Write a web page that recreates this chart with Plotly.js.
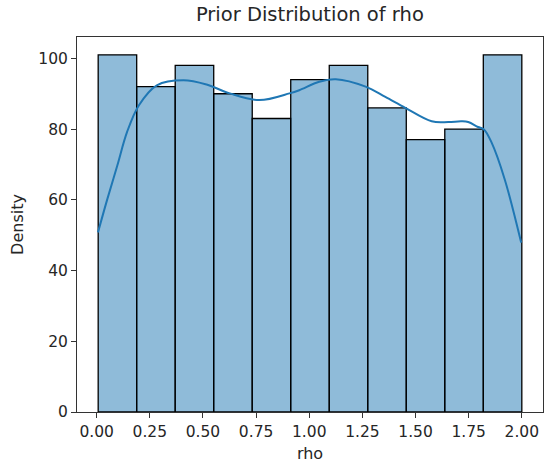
<!DOCTYPE html>
<html>
<head>
<meta charset="utf-8">
<script src="https://cdn.plot.ly/plotly-3.0.1.min.js"></script>
<style>html,body{margin:0;padding:0;background:#fff;}#chart{width:547px;height:466px;}</style>
</head>
<body>
<div id="chart"></div>
<script>
// Histogram of rho: 11 equal bins between data min and max
const rhoMin = 0.007;
const rhoMax = 2.0;
const counts = [101, 92, 98, 90, 83, 94, 98, 86, 77, 80, 101];

// KDE curve (scaled to counts)
const kdeX = [0.006, 0.05, 0.097, 0.143, 0.198, 0.283, 0.408, 0.517, 0.626, 0.766, 0.907, 0.953, 1.047, 1.125, 1.265, 1.358, 1.452, 1.576, 1.654, 1.716, 1.748, 1.794, 1.822, 1.857, 1.919, 1.997];
const kdeY = [50.8, 60.2, 69.7, 79.2, 86.7, 92.4, 93.8, 92.6, 90.1, 88.2, 90.1, 91.0, 93.4, 94.1, 92.0, 89.1, 86.0, 82.2, 82.0, 82.2, 82.0, 80.6, 79.9, 76.3, 65.9, 47.9];

const xTicks = [0, 0.25, 0.5, 0.75, 1.0, 1.25, 1.5, 1.75, 2.0];
const yTicks = [0, 20, 40, 60, 80, 100];

const nBins = counts.length;
const binWidth = (rhoMax - rhoMin) / nBins;
const centers = counts.map((_, i) => rhoMin + binWidth * (i + 0.5));

const span = rhoMax - rhoMin;
const xRange = [rhoMin - 0.05 * span, rhoMax + 0.05 * span];
const yRange = [0, Math.max(...counts) * 1.05];

const font = 'DejaVu Sans, sans-serif';
const txt = '#262626';

const traces = [
  {
    type: 'bar',
    x: centers,
    y: counts,
    width: counts.map(() => binWidth),
    marker: {color: 'rgba(31,119,180,0.5)', line: {color: '#000', width: 1.3}},
    hoverinfo: 'skip'
  },
  {
    type: 'scatter',
    mode: 'lines',
    x: kdeX,
    y: kdeY,
    line: {color: '#1f77b4', width: 2, shape: 'spline'},
    hoverinfo: 'skip'
  }
];

const layout = {
  width: 547,
  height: 466,
  margin: {l: 77, r: 4, t: 37, b: 54},
  paper_bgcolor: '#fff',
  plot_bgcolor: '#fff',
  showlegend: false,
  bargap: 0,
  font: {family: font, size: 15.5, color: txt},
  title: {text: 'Prior Distribution of rho', x: 0.5665, xanchor: 'center', y: 0.97, yanchor: 'middle', font: {family: font, size: 19.5, color: txt}},
  xaxis: {
    range: xRange,
    tickvals: xTicks,
    tickformat: '.2f',
    ticks: 'outside', ticklen: 5, tickwidth: 1, tickcolor: '#333',
    showgrid: false, zeroline: false,
    showline: true, mirror: true, linecolor: '#333', linewidth: 1,
    tickfont: {family: font, size: 15.5, color: txt},
    title: {text: 'rho', font: {family: font, size: 16, color: txt}, standoff: 8}
  },
  yaxis: {
    range: yRange,
    tickvals: yTicks,
    ticks: 'outside', ticklen: 5, tickwidth: 1, tickcolor: '#333',
    showgrid: false, zeroline: false,
    showline: true, mirror: true, linecolor: '#333', linewidth: 1,
    tickfont: {family: font, size: 15.5, color: txt},
    title: {text: 'Density', font: {family: font, size: 16, color: txt}, standoff: 10}
  }
};

Plotly.newPlot('chart', traces, layout, {displayModeBar: false, staticPlot: true});
</script>
</body>
</html>
